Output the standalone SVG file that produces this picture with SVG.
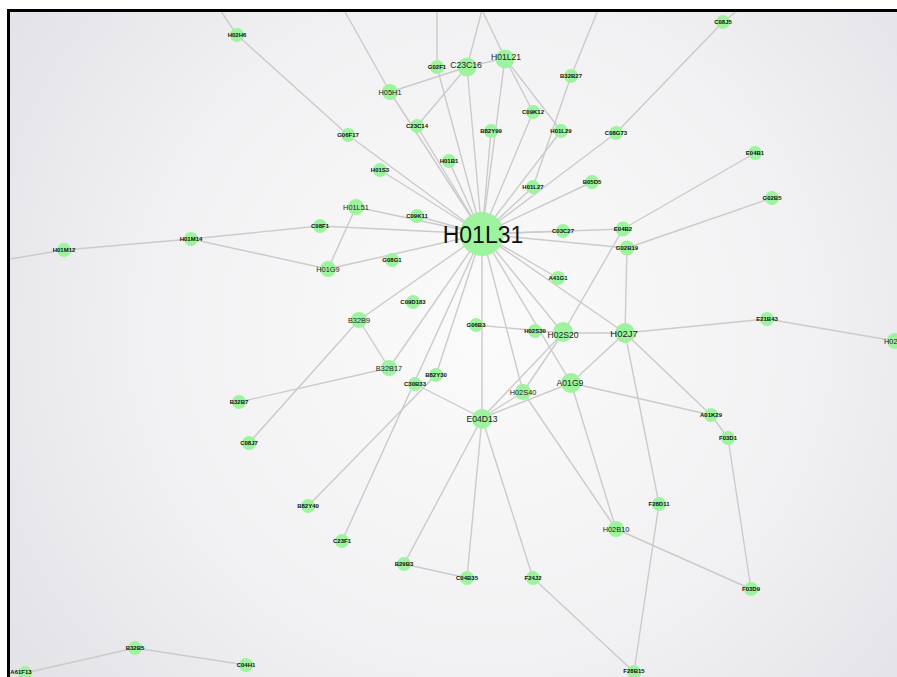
<svg xmlns="http://www.w3.org/2000/svg" width="897" height="677" viewBox="0 0 897 677">
<defs>
<radialGradient id="bg" cx="480" cy="330" r="560" gradientUnits="userSpaceOnUse">
<stop offset="0" stop-color="#fbfbfb"/><stop offset="0.6" stop-color="#f1f1f3"/><stop offset="1" stop-color="#e3e3e8"/>
</radialGradient>
<filter id="soft" x="-50%" y="-50%" width="200%" height="200%"><feGaussianBlur stdDeviation="0.7"/></filter>
</defs>
<style>
.e{stroke:#cbcbcb;stroke-width:1.4;fill:none}
.n circle{fill:#9ef49e;filter:url(#soft)}
.s text{font-family:"Liberation Sans",Arial,sans-serif;font-size:6px;font-weight:bold;fill:#111;text-anchor:middle;dominant-baseline:central}
.m text{font-family:"Liberation Sans",Arial,sans-serif;font-size:7.4px;fill:#222;text-anchor:middle;dominant-baseline:central}
.l text{font-family:"Liberation Sans",Arial,sans-serif;font-size:8.6px;fill:#222;text-anchor:middle;dominant-baseline:central}
.h text{font-family:"Liberation Sans",Arial,sans-serif;font-size:23px;fill:#111;text-anchor:middle;dominant-baseline:central}
</style>
<rect width="897" height="677" fill="#ffffff"/>
<rect x="10" y="12" width="887" height="665" fill="url(#bg)"/>
<g id="connectors" class="e">
<line x1="220" y1="10" x2="237" y2="35"/>
<line x1="344" y1="10" x2="390" y2="92"/>
<line x1="437" y1="10" x2="437" y2="67"/>
<line x1="482" y1="10" x2="467" y2="67"/>
<line x1="482" y1="10" x2="505" y2="58"/>
<line x1="598" y1="10" x2="571" y2="76"/>
<line x1="738" y1="10" x2="723" y2="22"/>
<line x1="10" y1="259" x2="64" y2="250"/>
<line x1="482" y1="234" x2="437" y2="67"/>
<line x1="482" y1="234" x2="467" y2="67"/>
<line x1="482" y1="234" x2="505" y2="58"/>
<line x1="482" y1="234" x2="390" y2="92"/>
<line x1="482" y1="234" x2="348" y2="135"/>
<line x1="482" y1="234" x2="417" y2="126"/>
<line x1="482" y1="234" x2="491" y2="131"/>
<line x1="482" y1="234" x2="533" y2="112"/>
<line x1="482" y1="234" x2="561" y2="131"/>
<line x1="482" y1="234" x2="449" y2="161"/>
<line x1="482" y1="234" x2="380" y2="170"/>
<line x1="482" y1="234" x2="533" y2="187"/>
<line x1="482" y1="234" x2="592" y2="182"/>
<line x1="482" y1="234" x2="616" y2="133"/>
<line x1="482" y1="234" x2="356" y2="207"/>
<line x1="482" y1="234" x2="417" y2="216"/>
<line x1="482" y1="234" x2="320" y2="226"/>
<line x1="482" y1="234" x2="563" y2="231"/>
<line x1="482" y1="234" x2="623" y2="229"/>
<line x1="482" y1="234" x2="627" y2="248"/>
<line x1="482" y1="234" x2="328" y2="269"/>
<line x1="482" y1="234" x2="558" y2="278"/>
<line x1="482" y1="234" x2="359" y2="320"/>
<line x1="482" y1="234" x2="389" y2="368"/>
<line x1="482" y1="234" x2="342" y2="541"/>
<line x1="482" y1="234" x2="436" y2="375"/>
<line x1="482" y1="234" x2="482" y2="418"/>
<line x1="482" y1="234" x2="523" y2="392"/>
<line x1="482" y1="234" x2="571" y2="383"/>
<line x1="482" y1="234" x2="563" y2="333"/>
<line x1="482" y1="234" x2="625" y2="333"/>
<line x1="237" y1="35" x2="348" y2="135"/>
<line x1="390" y1="92" x2="467" y2="67"/>
<line x1="467" y1="67" x2="505" y2="58"/>
<line x1="467" y1="67" x2="417" y2="126"/>
<line x1="505" y1="58" x2="533" y2="112"/>
<line x1="505" y1="58" x2="561" y2="131"/>
<line x1="571" y1="76" x2="533" y2="187"/>
<line x1="616" y1="133" x2="723" y2="22"/>
<line x1="623" y1="229" x2="755" y2="153"/>
<line x1="627" y1="248" x2="772" y2="198"/>
<line x1="627" y1="248" x2="625" y2="333"/>
<line x1="623" y1="229" x2="563" y2="333"/>
<line x1="64" y1="250" x2="191" y2="239"/>
<line x1="191" y1="239" x2="320" y2="226"/>
<line x1="191" y1="239" x2="328" y2="269"/>
<line x1="356" y1="207" x2="328" y2="269"/>
<line x1="359" y1="320" x2="389" y2="368"/>
<line x1="359" y1="320" x2="249" y2="443"/>
<line x1="389" y1="368" x2="239" y2="402"/>
<line x1="308" y1="506" x2="436" y2="375"/>
<line x1="415" y1="384" x2="482" y2="418"/>
<line x1="482" y1="418" x2="404" y2="564"/>
<line x1="482" y1="418" x2="467" y2="578"/>
<line x1="482" y1="418" x2="533" y2="578"/>
<line x1="482" y1="418" x2="523" y2="392"/>
<line x1="482" y1="418" x2="571" y2="383"/>
<line x1="482" y1="418" x2="563" y2="333"/>
<line x1="404" y1="564" x2="467" y2="578"/>
<line x1="533" y1="578" x2="634" y2="672"/>
<line x1="523" y1="392" x2="563" y2="333"/>
<line x1="523" y1="392" x2="616" y2="529"/>
<line x1="476" y1="325" x2="563" y2="333"/>
<line x1="563" y1="333" x2="625" y2="333"/>
<line x1="625" y1="333" x2="571" y2="383"/>
<line x1="625" y1="333" x2="711" y2="415"/>
<line x1="625" y1="333" x2="659" y2="504"/>
<line x1="625" y1="333" x2="767" y2="319"/>
<line x1="767" y1="319" x2="895" y2="341"/>
<line x1="571" y1="383" x2="711" y2="415"/>
<line x1="571" y1="383" x2="616" y2="529"/>
<line x1="711" y1="415" x2="728" y2="438"/>
<line x1="728" y1="438" x2="751" y2="589"/>
<line x1="616" y1="529" x2="751" y2="589"/>
<line x1="659" y1="504" x2="634" y2="672"/>
<line x1="25" y1="673" x2="135" y2="648"/>
<line x1="135" y1="648" x2="246" y2="665"/>
</g>
<g class="n s">
<g id="H02H6"><circle cx="237" cy="35" r="7"/><text x="237" y="35">H02H6</text></g>
<g id="G02F1"><circle cx="437" cy="67" r="7"/><text x="437" y="67">G02F1</text></g>
<g id="B32B27"><circle cx="571" cy="76" r="7"/><text x="571" y="76">B32B27</text></g>
<g id="C09K12"><circle cx="533" cy="112" r="7"/><text x="533" y="112">C09K12</text></g>
<g id="C23C14"><circle cx="417" cy="126" r="7"/><text x="417" y="126">C23C14</text></g>
<g id="B82Y99"><circle cx="491" cy="131" r="7"/><text x="491" y="131">B82Y99</text></g>
<g id="H01L29"><circle cx="561" cy="131" r="7"/><text x="561" y="131">H01L29</text></g>
<g id="G06F17"><circle cx="348" cy="135" r="7"/><text x="348" y="135">G06F17</text></g>
<g id="C08G73"><circle cx="616" cy="133" r="7"/><text x="616" y="133">C08G73</text></g>
<g id="C08J5"><circle cx="723" cy="22" r="7"/><text x="723" y="22">C08J5</text></g>
<g id="E04B1"><circle cx="755" cy="153" r="7"/><text x="755" y="153">E04B1</text></g>
<g id="H01B1"><circle cx="449" cy="161" r="7"/><text x="449" y="161">H01B1</text></g>
<g id="H01S3"><circle cx="380" cy="170" r="7"/><text x="380" y="170">H01S3</text></g>
<g id="H01L27"><circle cx="533" cy="187" r="7"/><text x="533" y="187">H01L27</text></g>
<g id="B05D5"><circle cx="592" cy="182" r="7"/><text x="592" y="182">B05D5</text></g>
<g id="G02B5"><circle cx="772" cy="198" r="7"/><text x="772" y="198">G02B5</text></g>
<g id="C09K11"><circle cx="417" cy="216" r="7"/><text x="417" y="216">C09K11</text></g>
<g id="C08F1"><circle cx="320" cy="226" r="7"/><text x="320" y="226">C08F1</text></g>
<g id="C03C27"><circle cx="563" cy="231" r="7"/><text x="563" y="231">C03C27</text></g>
<g id="E04B2"><circle cx="623" cy="229" r="7.5"/><text x="623" y="229">E04B2</text></g>
<g id="G02B19"><circle cx="627" cy="248" r="7.5"/><text x="627" y="248">G02B19</text></g>
<g id="H01M12"><circle cx="64" cy="250" r="7"/><text x="64" y="250">H01M12</text></g>
<g id="H01M14"><circle cx="191" cy="239" r="7"/><text x="191" y="239">H01M14</text></g>
<g id="G08G1"><circle cx="392" cy="260" r="7"/><text x="392" y="260">G08G1</text></g>
<g id="A41G1"><circle cx="558" cy="278" r="7"/><text x="558" y="278">A41G1</text></g>
<g id="C09D183"><circle cx="413" cy="302" r="7"/><text x="413" y="302">C09D183</text></g>
<g id="G06B3"><circle cx="476" cy="325" r="7"/><text x="476" y="325">G06B3</text></g>
<g id="H02S30"><circle cx="535" cy="331" r="7"/><text x="535" y="331">H02S30</text></g>
<g id="B82Y30"><circle cx="436" cy="375" r="7"/><text x="436" y="375">B82Y30</text></g>
<g id="C30B33"><circle cx="415" cy="384" r="7"/><text x="415" y="384">C30B33</text></g>
<g id="B32B7"><circle cx="239" cy="402" r="7"/><text x="239" y="402">B32B7</text></g>
<g id="C08J7"><circle cx="249" cy="443" r="7"/><text x="249" y="443">C08J7</text></g>
<g id="A01K29"><circle cx="711" cy="415" r="7"/><text x="711" y="415">A01K29</text></g>
<g id="F03D1"><circle cx="728" cy="438" r="7"/><text x="728" y="438">F03D1</text></g>
<g id="E21B43"><circle cx="767" cy="319" r="7"/><text x="767" y="319">E21B43</text></g>
<g id="F28D11"><circle cx="659" cy="504" r="7"/><text x="659" y="504">F28D11</text></g>
<g id="B82Y40"><circle cx="308" cy="506" r="7"/><text x="308" y="506">B82Y40</text></g>
<g id="C23F1"><circle cx="342" cy="541" r="7"/><text x="342" y="541">C23F1</text></g>
<g id="B29B3"><circle cx="404" cy="564" r="7"/><text x="404" y="564">B29B3</text></g>
<g id="C04B35"><circle cx="467" cy="578" r="7"/><text x="467" y="578">C04B35</text></g>
<g id="F24J2"><circle cx="533" cy="578" r="7"/><text x="533" y="578">F24J2</text></g>
<g id="F03D9"><circle cx="751" cy="589" r="7"/><text x="751" y="589">F03D9</text></g>
<g id="B32B5"><circle cx="135" cy="648" r="7"/><text x="135" y="648">B32B5</text></g>
<g id="C04H1"><circle cx="246" cy="665" r="7"/><text x="246" y="665">C04H1</text></g>
<g id="A61F13"><circle cx="25" cy="673" r="7"/><text x="21" y="672">A61F13</text></g>
<g id="F28B15"><circle cx="634" cy="672" r="7"/><text x="634" y="671">F28B15</text></g>
</g>
<g class="n m">
<g id="H02x"><circle cx="895" cy="341" r="8"/><text x="884" y="341" style="text-anchor:start">H02</text></g>
<g id="H05H1"><circle cx="390" cy="92" r="8"/><text x="390" y="92">H05H1</text></g>
<g id="H01L51"><circle cx="356" cy="207" r="8"/><text x="356" y="207">H01L51</text></g>
<g id="H01G9"><circle cx="328" cy="269" r="8"/><text x="328" y="269">H01G9</text></g>
<g id="B32B9"><circle cx="359" cy="320" r="8"/><text x="359" y="320">B32B9</text></g>
<g id="B32B17"><circle cx="389" cy="368" r="8"/><text x="389" y="368">B32B17</text></g>
<g id="H02S40"><circle cx="523" cy="392" r="8"/><text x="523" y="392">H02S40</text></g>
<g id="H02B10"><circle cx="616" cy="529" r="8"/><text x="616" y="529">H02B10</text></g>
</g>
<g class="n l">
<g id="C23C16"><circle cx="467" cy="67" r="9.5"/><text x="466" y="65">C23C16</text></g>
<g id="H01L21"><circle cx="505" cy="59" r="9.5"/><text x="506" y="57">H01L21</text></g>
<g id="H02S20"><circle cx="563" cy="332" r="10"/><text x="563" y="335">H02S20</text></g>
<g id="H02J7"><circle cx="625" cy="333" r="10"/><text x="624" y="333" style="font-size:9.5px">H02J7</text></g>
<g id="A01G9"><circle cx="571" cy="383" r="10"/><text x="570" y="383">A01G9</text></g>
<g id="E04D13"><circle cx="482" cy="419" r="10"/><text x="482" y="419">E04D13</text></g>
</g>
<g class="n h">
<g id="H01L31"><circle cx="482" cy="234" r="22"/><text x="483" y="235">H01L31</text></g>
</g>
<rect x="7" y="9" width="3" height="668" fill="#000"/>
<rect x="7" y="9" width="890" height="3" fill="#000"/>
</svg>
